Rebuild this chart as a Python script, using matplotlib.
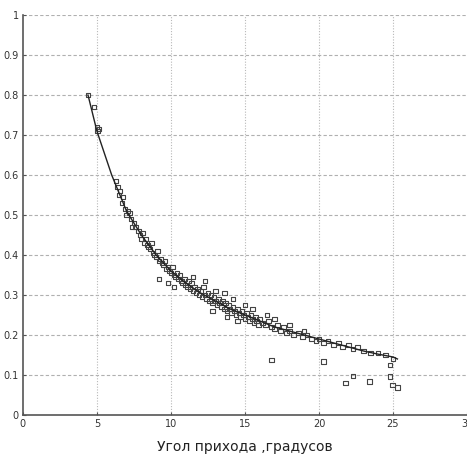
import matplotlib
matplotlib.use("Agg")
import matplotlib.pyplot as plt

# measured points: arrival angle (deg) and value
angle_deg = [4.4, 4.8, 5.0, 5.05, 5.15, 6.3, 6.4, 6.5, 6.55, 6.7, 6.75, 6.9, 7.0, 7.1, 7.2, 7.3, 7.36, 7.5, 7.6, 7.8,
             7.9, 8.0, 8.1, 8.2, 8.3, 8.4, 8.5, 8.6, 8.7, 8.8, 8.9, 9.0, 9.1, 9.2, 9.2, 9.3, 9.4, 9.5, 9.6, 9.7,
             9.8, 9.8, 9.9, 10.0, 10.1, 10.2, 10.2, 10.3, 10.4, 10.5, 10.6, 10.7, 10.8, 10.9, 11.0, 11.1, 11.2, 11.3, 11.4, 11.5,
             11.5, 11.6, 11.7, 11.8, 11.9, 12.0, 12.1, 12.2, 12.3, 12.3, 12.4, 12.5, 12.6, 12.7, 12.8, 12.8, 12.9, 13.0, 13.0, 13.1,
             13.2, 13.3, 13.4, 13.5, 13.6, 13.6, 13.7, 13.8, 13.8, 13.9, 14.0, 14.1, 14.2, 14.2, 14.3, 14.4, 14.5, 14.5, 14.6, 14.7,
             14.8, 14.9, 15.0, 15.0, 15.1, 15.2, 15.3, 15.4, 15.5, 15.5, 15.6, 15.7, 15.8, 15.9, 16.0, 16.2, 16.4, 16.5, 16.6, 16.8,
             17.0, 17.0, 17.2, 17.4, 17.6, 17.8, 18.0, 18.0, 18.3, 18.6, 18.9, 19.0, 19.2, 19.5, 19.8, 20.0, 20.3, 20.6, 21.0, 21.3,
             21.6, 22.0, 22.3, 22.6, 23.0, 23.5, 24.0, 24.5, 24.8, 25.0,
             16.8, 20.3, 22.3, 21.8, 23.4, 24.8, 24.96, 25.3]
value = [0.80, 0.77, 0.72, 0.71, 0.715, 0.585, 0.57, 0.55, 0.56, 0.53, 0.545, 0.515, 0.50, 0.51, 0.505, 0.49, 0.47, 0.48, 0.47, 0.46,
         0.45, 0.44, 0.455, 0.43, 0.44, 0.425, 0.42, 0.415, 0.43, 0.405, 0.40, 0.395, 0.41, 0.385, 0.34, 0.39, 0.38, 0.375, 0.385, 0.365,
         0.37, 0.33, 0.36, 0.355, 0.37, 0.35, 0.32, 0.345, 0.355, 0.34, 0.35, 0.335, 0.33, 0.34, 0.325, 0.32, 0.335, 0.315, 0.33, 0.31,
         0.345, 0.32, 0.305, 0.315, 0.30, 0.31, 0.295, 0.32, 0.30, 0.335, 0.29, 0.305, 0.285, 0.30, 0.28, 0.26, 0.295, 0.285, 0.31, 0.275,
         0.29, 0.28, 0.27, 0.285, 0.265, 0.305, 0.28, 0.26, 0.245, 0.275, 0.265, 0.255, 0.27, 0.29, 0.26, 0.25, 0.265, 0.235, 0.255, 0.245,
         0.26, 0.25, 0.24, 0.275, 0.255, 0.245, 0.235, 0.25, 0.24, 0.265, 0.23, 0.245, 0.235, 0.225, 0.24, 0.23, 0.225, 0.25, 0.235, 0.22,
         0.215, 0.24, 0.225, 0.21, 0.22, 0.205, 0.21, 0.225, 0.20, 0.205, 0.195, 0.21, 0.20, 0.19, 0.185, 0.19, 0.18, 0.185, 0.175, 0.18,
         0.17, 0.175, 0.165, 0.17, 0.16, 0.155, 0.155, 0.15, 0.125, 0.14,
         0.1375, 0.133, 0.097, 0.08, 0.083, 0.096, 0.075, 0.068]

# fitted curve
fit_x = [4.4, 5, 6, 7, 8, 9, 10, 11, 12, 13, 14, 15, 16, 17, 18, 19, 20, 21, 22, 23, 24, 25, 25.3]
fit_y = [0.80, 0.71, 0.60, 0.51, 0.45, 0.40, 0.36, 0.33, 0.305, 0.285, 0.265, 0.25, 0.235, 0.22, 0.21, 0.20, 0.19,
         0.18, 0.17, 0.16, 0.152, 0.145, 0.14]

x_ticks = [0, 5, 10, 15, 20, 25, 30]
y_ticks = [0, 0.1, 0.2, 0.3, 0.4, 0.5, 0.6, 0.7, 0.8, 0.9, 1]
y_tick_labels = ["0", "0.1", "0.2", "0.3", "0.4", "0.5", "0.6", "0.7", "0.8", "0.9", "1"]
x_label = "Угол прихода ,градусов"

plt.rcParams['font.family'] = ['Liberation Sans Narrow', 'DejaVu Sans']

fig = plt.figure(figsize=(4.67, 4.58), dpi=100)
ax = fig.add_axes([0.049, 0.094, 0.951, 0.873])

ax.scatter(angle_deg, value, s=11, marker='s', facecolors='none', edgecolors='#444444', linewidths=0.8, zorder=3)
ax.plot(fit_x, fit_y, color='#222222', lw=1.0, zorder=4)

ax.set_xlim(0, 30)
ax.set_ylim(0, 1)
ax.set_xticks(x_ticks)
ax.set_yticks(y_ticks)
ax.set_yticklabels(y_tick_labels)
ax.tick_params(axis='both', labelsize=7, length=2, direction='in', colors='#555555', labelcolor='#333333', pad=3)

for y in y_ticks[1:]:
    ax.axhline(y, color='#b0b0b0', lw=0.8, ls=(0, (3, 2)), zorder=1)
for x in x_ticks[1:-1]:
    ax.axvline(x, color='#b8b8b8', lw=0.8, ls=(0, (1, 1.5)), zorder=1)

for s in ['top', 'right']:
    ax.spines[s].set_visible(False)
for s in ['left', 'bottom']:
    ax.spines[s].set_color('#555555')
    ax.spines[s].set_linewidth(1.2)

ax.set_xlabel(x_label, fontsize=10, color='#222222', labelpad=8)

fig.savefig("out.png", dpi=100)
